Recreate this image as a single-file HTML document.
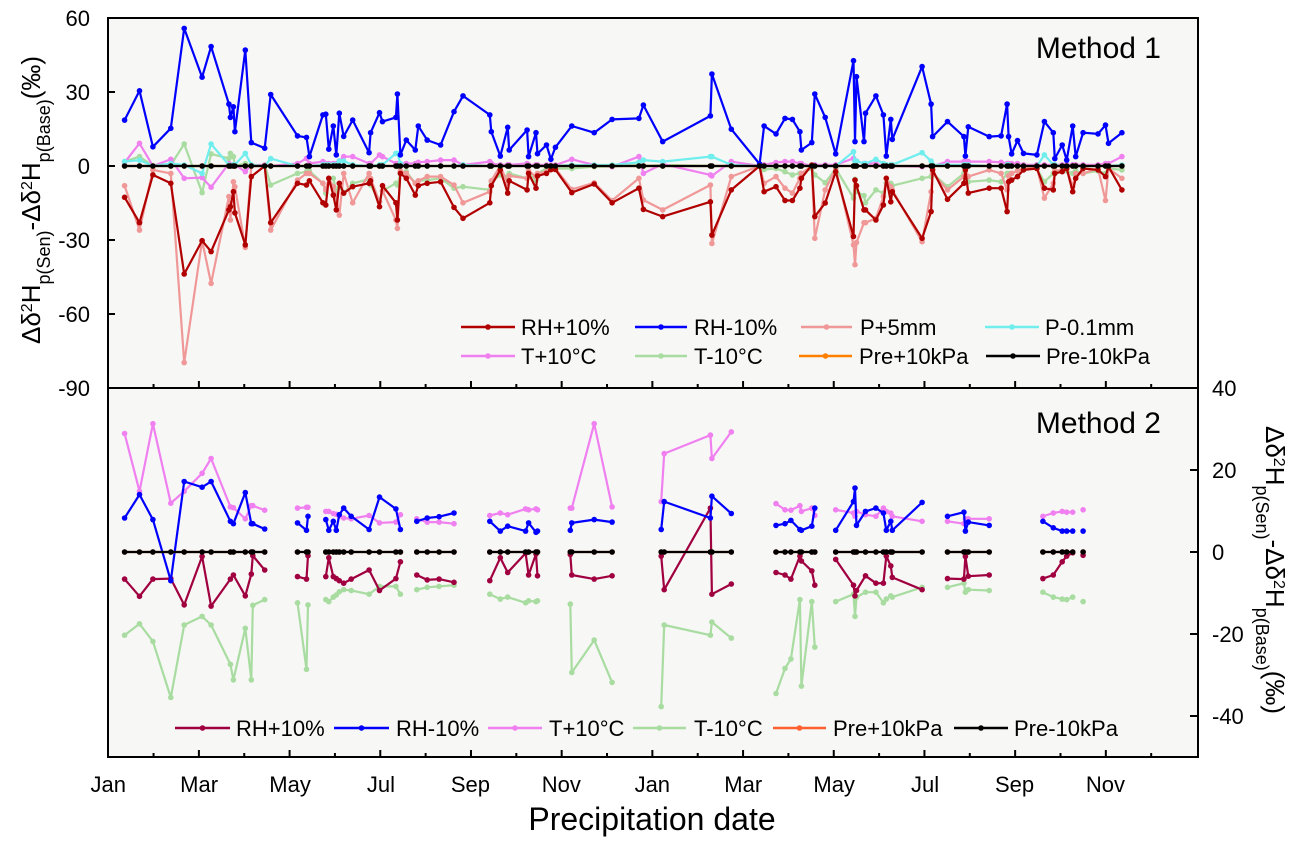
<!DOCTYPE html>
<html><head><meta charset="utf-8">
<style>
html,body{margin:0;padding:0;background:#fff;}
svg{display:block;font-family:"Liberation Sans",Arial,sans-serif;}
</style></head>
<body>
<svg id="chart" width="1304" height="848" viewBox="0 0 1304 848" xmlns="http://www.w3.org/2000/svg">
<rect x="0" y="0" width="1304" height="848" fill="#ffffff"/>
<rect x="108" y="18" width="1090" height="739" fill="#f7f7f6"/>
<g id="marks"></g>
<rect x="108" y="18" width="1090" height="370" fill="none" stroke="#000" stroke-width="2"/>
<rect x="108" y="388" width="1090" height="369" fill="none" stroke="#000" stroke-width="2"/>
<g id="axes"></g>
<text x="1161" y="58" font-size="30" text-anchor="end">Method 1</text>
<text x="1161" y="433" font-size="30" text-anchor="end">Method 2</text>
<text x="652" y="830" font-size="32" text-anchor="middle">Precipitation date</text>
<text transform="translate(40,200) rotate(-90)" font-size="26" text-anchor="middle">Δδ<tspan baseline-shift="super" font-size="16">2</tspan>H<tspan baseline-shift="sub" font-size="18">p(Sen)</tspan>-Δδ<tspan baseline-shift="super" font-size="16">2</tspan>H<tspan baseline-shift="sub" font-size="18">p(Base)</tspan>(‰)</text>
<text transform="translate(1266,570) rotate(90)" font-size="26" text-anchor="middle">Δδ<tspan baseline-shift="super" font-size="16">2</tspan>H<tspan baseline-shift="sub" font-size="18">p(Sen)</tspan>-Δδ<tspan baseline-shift="super" font-size="16">2</tspan>H<tspan baseline-shift="sub" font-size="18">p(Base)</tspan>(‰)</text>
<g id="legends"></g>
</svg>
<script>
// ---- Method 1 data (day index since first Jan) ----
const dates1 = [11,21,30,42,51,63,69,81,82,84,85,92,96,105,109,127,133,135,144,146,148,151,153,155,158,164,175,176,182,184,193,194,196,200,206,208,214,223,232,238,256,257,263,268,269,281,282,287,288,294,297,300,311,326,338,356,359,372,404,405,418,437,440,448,454,459,464,465,472,474,481,488,500,501,502,507,508,515,520,522,525,526,546,552,553,563,574,575,577,591,599,603,604,606,610,614,623,628,634,635,640,643,647,649,654,664,669,671,680];
const rhPlus1 = [-12.7,-23,-3.6,-7,-43.8,-30.3,-34.7,-17.8,-16.5,-10.4,-19,-32,-4.3,0,-23,-7,-7.7,-6,-14.9,-15.8,-5,-11.8,-17.8,-7,-11,-8.4,-7,-6,-16.5,-8,-14.9,-21.9,-3,-5,-11.8,-8,-7,-6.4,-16.8,-21.2,-14.9,-8,-1.6,-11,-6,-9.7,-3,-9,-4,-3,-1.5,-1.4,-10.8,-7.3,-14.9,-9,-17.6,-20.5,-14.5,-28,-9.7,0,-10.4,-8.4,-14,-14,-9,-5,0.4,-20.5,-15,-2.3,-28.6,-5.7,-8,-17.8,-17.8,-21.9,-15.8,-5,-14.5,-10.4,-29.3,-18.5,-1.6,-13.5,-7,-1.6,-11,-9,-9,-18.5,-6.4,-5.7,-4.3,-1.6,-1,-9,-9.7,-3,-2.3,-1,-10.4,-5,-1,-1.6,-4.3,-0.3,-9.7];
const rhMinus1 = [18.6,30.5,7.8,15.3,55.8,36,48.4,25.1,19.7,24,13.9,47,9.5,7.2,29,12.2,11.6,3.8,20.7,21,6.8,16.2,4.5,21.4,12,18.6,5.4,13.5,21.6,18,19.7,29.2,4.5,10.5,6.5,16.2,10.5,8.5,22,28.4,20.7,13.9,4,15.7,6.5,14.6,3.8,13.5,5,8.5,2.7,7.6,16.2,13.5,18.9,19.3,24.7,9.9,20.3,37.3,14.9,0.8,16.2,13,19.3,18.9,13.9,6.5,9.5,29.2,19.7,4.9,42.7,9.9,36.2,9.9,21.4,28.4,20.7,4,18.9,10.8,40.3,25.1,11.9,18,11.9,4,15.9,11.9,12.2,25.1,11.9,4.9,10.3,5.1,4.5,18,13.5,3,8.5,2.4,16.2,3.8,13.5,13,16.6,9.2,13.5];
const pPlus1 = [-8,-26,-1.6,-3,-79.7,-30.3,-47.6,-12.4,-21.9,-6.4,-8.4,-33,0,0,-26,-5.7,-3,-3,-7,-9.7,-5,-8.4,-12.4,-19.9,-3,-14.9,-3,-5,-14.5,-10,-21.9,-25.3,-2,-3,-7,-6,-4.3,-4.3,-7.7,-14.9,-10.4,-6,0,-7,-4,-5,-2,-4.3,-3,-2.3,-1,-1,-9.5,-6.8,-14,-5,-13.8,-17.8,-7.7,-31.4,-4.3,0,-7,-4.3,-9,-11,-5,-3,0,-29.3,-9.7,-1,-32,-40,-31,-23,-23,-21.2,-12.4,-5,-8.4,-9.7,-30.7,-10.4,-3,-9.7,-4.3,-1,-4.3,-1.6,-3,-9.7,-4,-3,-2,-1,-0.5,-13,-7,-2,-1.5,-1,-8.4,-3,-3,-1,-14,-1,-5];
const pMinus1 = [1.8,2.4,0,1,0.4,-3,8.9,0.4,0,0.5,0.5,5.1,0.5,0,3,0,0,0,0.5,0.5,0.5,0.5,0.5,2,2,0.5,0,0,0.5,0.5,5.1,5.1,1,0,0,0,0,0,0,0.5,0,0,0,0,0,0,0,0,0,0,0,0,0.4,0.4,0.4,1.5,2.4,1.8,3.8,3.8,0.5,0,0,0,0,0,0,0,0,0,0,0,5.8,2,2,1,1,2.7,1,0.5,0.5,0.5,5.4,2,0.5,0.5,0.5,0.5,0.5,0,0,0.5,0.5,0,0,0,0,4.5,0.5,0.5,0,0,0,0,0,0,0,0,0.4];
const tPlus1 = [1.4,9.2,0,2.7,-5,-4.7,-8.6,1,0.4,0.5,0.5,-2.3,0.4,0.4,0,1,3.1,1,1.8,1,1,1,1,2,3.8,3.8,1,1,4.5,3.8,1,1,1,1,1,1.5,1.8,2.4,2.4,0.4,1.8,1,0.5,0.5,0.5,1,0.5,0.5,0.5,0.4,0.4,0.4,2.7,0.4,-0.3,3.8,-3,0.8,-3.6,-4,1.8,0,0.5,1.4,1.8,1.8,1,1,0,0.5,0.5,0.5,3.1,2,2,1,1,1,0,0,0,0,-0.3,0,0,1.8,1.8,1.8,1.8,1.8,1.5,1,1,1,1,0.5,0.5,0.5,0.5,0.5,0.5,0.5,0.5,0.5,0.5,0.5,1,1,3.8];
const tMinus1 = [1.8,3.8,0,0.4,8.9,-10.8,4.9,3.1,5.1,3.8,0,1,0,0.4,-7.7,-3,-2.3,-2,-7,-11,-5,-5,-10.4,-8.4,-11,-7,-5.4,-7.7,-14.5,-10,-7,-7.7,-3,-2.3,-7,-6,-5.7,-5,-9,-8.4,-9.7,-6.4,-3.6,-4.3,-3,-5,-3,-5.7,-3,-1,-1,-1,-1,-0.3,-0.3,0.4,0,0.4,0,0,0,0,-1.4,-1,-2.3,-3.6,-3,-3,-1,-3.6,-6.8,-1,-13,-5.4,-10.4,-12,-14.9,-9.7,-11,-7,-7,-8,-5,-4.3,-3,-8.4,-3,-1.6,-6.4,-5.7,-6.4,-3,-3,-3,-2,-1,-1,-6.4,-3,-2,-2,-2,-3,-2,-3,-2,-3,-1,-1.6];

// ---- Method 2 data (null = gap) ----
const dates2 = [11,21,30,42,51,63,69,82,84,92,96,97,105,null,127,133,134,null,146,148,151,153,155,158,163,175,182,193,196,null,207,214,222,232,null,256,263,268,280,282,287,288,null,310,311,326,338,null,371,373,404,405,418,null,448,454,458,464,465,472,474,null,488,500,501,502,508,515,520,522,525,526,546,null,563,574,575,577,591,null,627,634,640,643,647,null,654];
const rhPlus2 = [-6.6,-10.8,-6.6,-6.5,-12.9,-1.1,-13.2,-6.6,-5.6,-10.7,-5.4,-0.9,-4.4,null,-6,-6.6,-0.9,null,-6,-1.4,-6,-6.5,-7,-7.6,-6.6,-4.4,-9.4,-6.5,-2.4,null,-5.6,-6.8,-6.6,-7.4,null,-7,-1.4,-5,-0.3,-5.6,-0.5,-5.8,null,-0.6,-5.6,-6.6,-5.8,null,-1,-9.2,10.7,-10.3,-7.8,null,-5,-5.6,-6.6,-1,-2.2,-4.6,-8.1,null,-1.8,-8.1,-10.7,-9.4,-5.8,-7.6,-7.6,-1,-3.4,-6.2,-9.2,null,-6.5,-6.6,-1.1,-5.9,-5.6,null,-6.5,-5.6,-2.4,-1,-0.2,null,-0.8];
const rhMinus2 = [8.3,14,7.9,-7,17.2,15.8,17.2,7.5,6.9,14.5,6.9,6.9,5.6,null,7.1,5.3,8.7,null,7.9,5.3,7.5,5.3,9.1,10.7,8.7,5.5,13.4,10.5,5.5,null,7.5,8.3,8.6,9.5,null,7.5,5.1,6.3,5.1,7.1,4.8,5.1,null,5.3,7.1,7.9,7.3,null,5.5,12.3,8.3,13.6,9.4,null,6.5,6.9,7.7,5.5,5.3,6.3,10.7,null,5.3,12.3,15.6,6.5,9.9,10.7,9.5,5.3,7.5,5.3,12.1,null,8.7,9.7,5.1,7.3,6.5,null,7.5,5.9,5.1,5.1,5.1,null,5.1];
const tPlus2 = [28.9,14.8,31.3,11.9,14.8,19.2,22.8,11,10.8,8.1,11.3,11.3,10.2,null,10.7,10.9,10.9,null,9.9,9.9,9.4,9.2,8.7,8.3,8.1,8.9,7.1,7.3,9.1,null,8.1,7.3,7.3,6.9,null,8.9,9.5,9.1,10.5,10.3,10.5,10.3,null,10.7,10.7,31.3,11,null,12.3,24,28.5,22.8,29.3,null,11.8,10.3,10.2,11.3,9.9,10.7,8.9,null,10.3,9.5,8.7,9.9,9.1,8.7,10.7,9.9,9.5,8.7,7.5,null,7.5,6.9,8.1,8.1,8.1,null,8.7,9.5,9.9,9.7,9.7,null,10.3];
const tMinus2 = [-20.3,-17.5,-21.8,-35.5,-17.8,-15.7,-17.8,-27.4,-31.2,-18.6,-31.2,-13,-11.6,null,-12.4,-28.6,-12.9,null,-11.6,-12.1,-11,-10.5,-9.7,-9.2,-9.4,-10.3,-8.4,-8.4,-10.3,null,-9.2,-8.6,-8.4,-8.1,null,-10.3,-11.5,-11,-12.4,-11.9,-12.1,-11.9,null,-12.7,-29.4,-21.5,-31.8,null,-37.7,-17.8,-20.3,-17.1,-21,null,-34.5,-28.4,-26.1,-11.6,-32.7,-12.1,-23.2,null,-12.1,-10.3,-15.7,-11,-9.8,-9.8,-12.4,-11.5,-10.7,-11,-8.6,null,-8.6,-7.6,-9.8,-9.2,-9.4,null,-9.8,-11,-11.5,-11.6,-11,null,-12.1];

// ---- axis tick data ----
const xLabels = ["Jan","Mar","May","Jul","Sep","Nov","Jan","Mar","May","Jul","Sep","Nov"];
const xLabelDays = [0,61,122,183,243,304,365,426,487,548,608,669];
const topYTicks = [60,30,0,-30,-60,-90];
const botYTicks = [40,20,0,-20,-40];

const NS = "http://www.w3.org/2000/svg";
const X0 = 108, X1 = 1198;
function xs(d){ return 108.2 + d*1.4907; }
function yTop(v){ return 18 + (60 - v)*(388-18)/150; }
function yBot(v){ return 388 + (40 - v)*(757-388)/90; }
function mk(tag, attrs, parent){
  const e = document.createElementNS(NS, tag);
  for (const k in attrs) e.setAttribute(k, attrs[k]);
  parent.appendChild(e); return e;
}
const marks = document.getElementById('marks');
const axes = document.getElementById('axes');
const legends = document.getElementById('legends');

function drawSeries(dates, vals, yf, color, name){
  const g = mk('g', {}, marks);
  
  
  let segs = [], cur = [];
  for (let i=0;i<dates.length;i++){
    if (dates[i]===null || vals[i]===null){ if(cur.length) segs.push(cur); cur=[]; continue; }
    cur.push([xs(dates[i]), yf(vals[i])]);
  }
  if (cur.length) segs.push(cur);
  segs.forEach(s=>{
    const p = mk('polyline', {points: s.map(q=>q[0].toFixed(1)+','+q[1].toFixed(1)).join(' '), fill:'none', stroke:color, 'stroke-width':2.2, 'stroke-linejoin':'round'}, g);
    
    
    s.forEach(q=>{
      const c = mk('circle', {cx:q[0].toFixed(1), cy:q[1].toFixed(1), r:2.8, fill:color}, g);
      
      
    });
  });
}
const zeros1 = dates1.map(()=>0);
const zeros2 = dates2.map(d=> d===null ? null : 0);

// Method 1
drawSeries(dates1, tMinus1, yTop, '#a8dca0', 'm1-t-minus-10');
drawSeries(dates1, tPlus1, yTop, '#f080f0', 'm1-t-plus-10');
drawSeries(dates1, pMinus1, yTop, '#70eeee', 'm1-p-minus-0.1mm');
drawSeries(dates1, pPlus1, yTop, '#f09898', 'm1-p-plus-5mm');
drawSeries(dates1, rhPlus1, yTop, '#b00000', 'm1-rh-plus-10');
drawSeries(dates1, rhMinus1, yTop, '#0000ff', 'm1-rh-minus-10');
drawSeries(dates1, zeros1, yTop, '#ff8000', 'm1-pre-plus-10kpa');
drawSeries(dates1, zeros1, yTop, '#000000', 'm1-pre-minus-10kpa');
// Method 2
drawSeries(dates2, tMinus2, yBot, '#a8dca0', 'm2-t-minus-10');
drawSeries(dates2, tPlus2, yBot, '#f080f0', 'm2-t-plus-10');
drawSeries(dates2, rhPlus2, yBot, '#a00040', 'm2-rh-plus-10');
drawSeries(dates2, rhMinus2, yBot, '#0000ff', 'm2-rh-minus-10');
drawSeries(dates2, zeros2, yBot, '#ff6030', 'm2-pre-plus-10kpa');
drawSeries(dates2, zeros2, yBot, '#000000', 'm2-pre-minus-10kpa');

// x ticks (monthly), on both panel bottoms, inward
for (let k=1; k<=23; k++){
  const x = xs(k*30.42);
  const len = (k%2===0) ? 7 : 4;
  [388, 757].forEach(yb=>{
    const t = mk('line', {x1:x, x2:x, y1:yb, y2:yb-len, stroke:'#000', 'stroke-width':2}, axes);
    
    
  });
}
xLabels.forEach((lab,i)=>{
  const t = mk('text', {x:xs(xLabelDays[i]), y:792, 'font-size':22, 'text-anchor':'middle'}, axes);
  t.textContent = lab;
  
  
});
// top left y axis
topYTicks.forEach(v=>{
  const y = yTop(v);
  if (v>-90 && v<60){
    const t = mk('line', {x1:X0, x2:X0+7, y1:y, y2:y, stroke:'#000', 'stroke-width':2}, axes);
    
    
  }
  const l = mk('text', {x:90, y:y+8, 'font-size':22, 'text-anchor':'end'}, axes);
  l.textContent = v;
  
  
});
// bottom right y axis
botYTicks.forEach(v=>{
  const y = yBot(v);
  if (v<40){
    const t = mk('line', {x1:X1, x2:X1-8, y1:y, y2:y, stroke:'#000', 'stroke-width':2}, axes);
    
    
  }
  const l = mk('text', {x:1212, y:y+8, 'font-size':22, 'text-anchor':'start'}, axes);
  l.textContent = v;
  
  
});

// legends
function legendItem(x1, x2, tx, y, color, label, name){
  const g = mk('g', {}, legends);
  
  
  mk('line', {x1:x1, x2:x2, y1:y, y2:y, stroke:color, 'stroke-width':2.5}, g);
  mk('circle', {cx:(x1+x2)/2, cy:y, r:2.8, fill:color}, g);
  const t = mk('text', {x:tx, y:y+8, 'font-size':22}, g);
  t.textContent = label;
}
legendItem(461,515,521,327,'#b00000','RH+10%','legend-m1-rh-plus');
legendItem(635,687,694,327,'#0000ff','RH-10%','legend-m1-rh-minus');
legendItem(801,852,860,327,'#f09898','P+5mm','legend-m1-p-plus');
legendItem(985,1039,1045,327,'#70eeee','P-0.1mm','legend-m1-p-minus');
legendItem(461,515,521,356,'#f080f0','T+10°C','legend-m1-t-plus');
legendItem(635,687,694,356,'#a8dca0','T-10°C','legend-m1-t-minus');
legendItem(799,852,859,356,'#ff8000','Pre+10kPa','legend-m1-pre-plus');
legendItem(986,1040,1046,356,'#000000','Pre-10kPa','legend-m1-pre-minus');

legendItem(175,230,236,728,'#a00040','RH+10%','legend-m2-rh-plus');
legendItem(334,389,396,728,'#0000ff','RH-10%','legend-m2-rh-minus');
legendItem(488,542,549,728,'#f080f0','T+10°C','legend-m2-t-plus');
legendItem(633,686,694,728,'#a8dca0','T-10°C','legend-m2-t-minus');
legendItem(773,826,833,728,'#ff6030','Pre+10kPa','legend-m2-pre-plus');
legendItem(954,1008,1014,728,'#000000','Pre-10kPa','legend-m2-pre-minus');
</script>
</body></html>
